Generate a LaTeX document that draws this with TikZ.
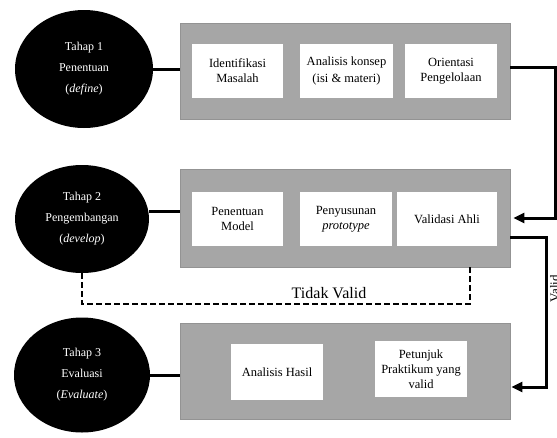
\documentclass[tikz,border=0pt]{standalone}
\usepackage{fontspec}
\setmainfont{Liberation Serif}
\usetikzlibrary{shapes.geometric,arrows.meta}
\tikzset{
    tahap/.style={ellipse,fill=black,text=white,align=center,inner sep=0pt,
        font=\fontsize{12}{21}\selectfont},
    panel/.style={rectangle,fill=gray!70,draw=gray!85,line width=0.8pt,
        minimum width=330pt,minimum height=96pt,inner sep=0pt},
    kotak/.style={rectangle,fill=white,align=center,inner sep=0pt,
        minimum width=92pt,minimum height=54pt,font=\fontsize{12.5}{15}\selectfont},
    link/.style={line width=3pt},
    panah/.style={line width=3pt,-{Triangle[length=11pt,width=10pt]}},
    balik/.style={line width=2pt,dash pattern=on 6pt off 3pt},
}

\begin{document}
\begin{tikzpicture}[x=1pt,y=-1pt]
\useasboundingbox (0,0) rectangle (557,437);
\node[tahap,minimum width=138pt,minimum height=118pt] (tahap1) at (84,69) {Tahap 1\\Penentuan\\(\textit{define})};
\node[tahap,minimum width=134pt,minimum height=108pt] (tahap2) at (82,219) {Tahap 2\\Pengembangan\\(\textit{develop})};
\node[tahap,minimum width=136pt,minimum height=115pt] (tahap3) at (82,375) {Tahap 3\\Evaluasi\\(\textit{Evaluate})};

\node[panel] (fase1) at (345,71) {};
\node[panel,minimum height=98pt] (fase2) at (345,218) {};
\node[panel] (fase3) at (345,371) {};

\node[kotak,minimum width=91pt] (idm) at (237.5,71) {Identifikasi\\Masalah};
\node[kotak,minimum width=93pt] (akon) at (346.5,71) {Analisis konsep\\[2pt](isi \& materi)};
\node[kotak] (orp) at (451,71) {Orientasi\\Pengelolaan};

\node[kotak,minimum width=91pt] (pm) at (237.5,219) {Penentuan\\Model};
\node[kotak] (pp) at (346,219) {Penyusunan\\\textit{prototype}};
\node[kotak,minimum width=100pt] (va) at (447,219) {Validasi Ahli};

\node[kotak,minimum height=56pt] (ah) at (277,372) {Analisis Hasil};
\node[kotak,minimum height=56pt] (ppv) at (421,369) {Petunjuk\\Praktikum yang\\valid};

\draw[link] (tahap1.east) -- (tahap1.east -| fase1.west);
\draw[link] ([yshift=8pt]tahap2.east) -- ([yshift=8pt]tahap2.east -| fase2.west);
\draw[link] (tahap3.east) -- (tahap3.east -| fase3.west);

\draw[panah,shorten >=3pt] ([yshift=4pt]fase1.east) -- ++(45,0) |- (fase2.east);
\draw[panah,shorten >=1pt] ([yshift=-19pt]fase2.east) -- ++(36,0) |- ([yshift=-16pt]fase3.east);

\coordinate (kembali) at ([xshift=125pt]fase2.south);
\draw[balik] (tahap2.south) -- ++(0,31) -| (kembali);
\node[font=\fontsize{16}{19}\selectfont] (tidakvalid) at (329,293) {Tidak Valid};
\node[rotate=90,anchor=north,inner sep=0pt,font=\fontsize{13}{15}\selectfont] (valid) at (550,289) {Valid};
\end{tikzpicture}
\end{document}
